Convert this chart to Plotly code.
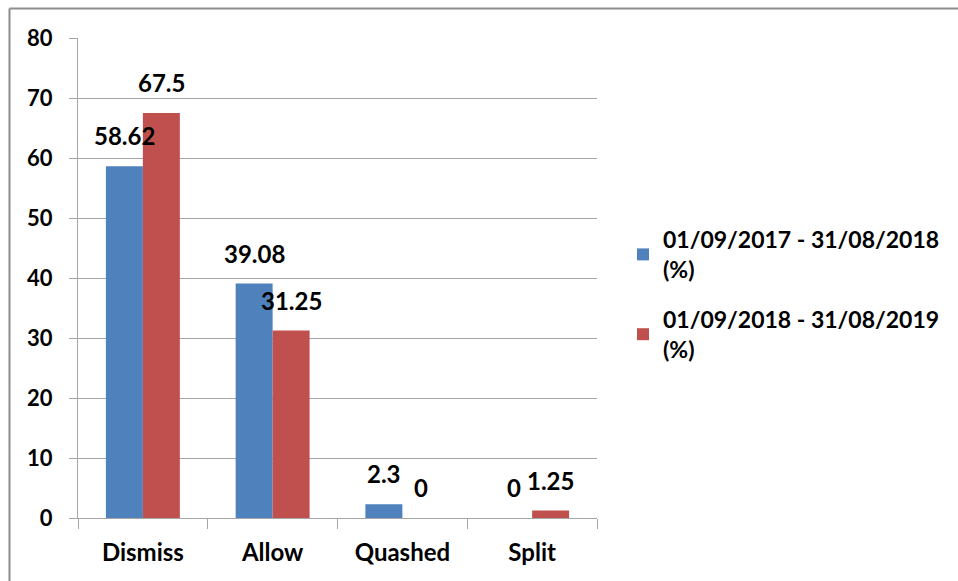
import plotly.graph_objects as go

categories = ["Dismiss", "Allow", "Quashed", "Split"]
series_names = ["01/09/2017 - 31/08/2018<br>(%)", "01/09/2018 - 31/08/2019<br>(%)"]
values_2017_18 = [58.62, 39.08, 2.3, 0]
values_2018_19 = [67.5, 31.25, 0, 1.25]
label_2017_18 = ["58.62", "39.08", "2.3", "0"]
label_2018_19 = ["67.5", "31.25", "0", "1.25"]
y_ticks = [0, 10, 20, 30, 40, 50, 60, 70, 80]

BLUE = "#4F81BD"
RED = "#C0504D"
FONT = "Lato"
GRID = "#A6A6A6"

fig = go.Figure()
fig.add_trace(go.Bar(x=categories, y=values_2017_18, name=series_names[0],
                     legendgroup="p1", marker=dict(color=BLUE, line=dict(width=0))))
fig.add_trace(go.Bar(x=categories, y=values_2018_19, name=series_names[1],
                     legendgroup="p2", marker=dict(color=RED, line=dict(width=0))))

# value labels sit above each bar, shifted to the bar's side of the group
half_bar = 18.5
label_font = dict(family=FONT, size=24, color="#000", weight="bold")
annotations = []
for cat, v, t in zip(categories, values_2017_18, label_2017_18):
    annotations.append(dict(x=cat, y=v, text=t, xref="x", yref="y", showarrow=False,
                            xshift=-half_bar, yshift=14, yanchor="bottom", font=label_font))
for cat, v, t in zip(categories, values_2018_19, label_2018_19):
    annotations.append(dict(x=cat, y=v, text=t, xref="x", yref="y", showarrow=False,
                            xshift=half_bar, yshift=14, yanchor="bottom", font=label_font))

# chart frame (left and top edges visible)
plot_w, plot_h = 519, 480
fx = (9.5 - 78) / plot_w
fy = (518 - 8.5) / plot_h
shapes = [
    dict(type="line", xref="paper", yref="paper", x0=fx, x1=fx, y0=fy, y1=-0.3,
         line=dict(color="#8C8C8C", width=2)),
    dict(type="line", xref="paper", yref="paper", x0=fx, x1=2.0, y0=fy, y1=fy,
         line=dict(color="#8C8C8C", width=2)),
]

fig.update_layout(
    width=958, height=581,
    margin=dict(l=78, r=361, t=38, b=63),
    paper_bgcolor="white", plot_bgcolor="white",
    barmode="group", bargap=0.43, bargroupgap=0,
    font=dict(family=FONT, size=22, color="#000"),
    showlegend=True,
    legend=dict(x=(623 - 78) / plot_w, xanchor="left", y=0.625, yanchor="top",
                font=dict(family=FONT, size=23, color="#000", weight="bold"),
                tracegroupgap=17, itemclick=False),
    annotations=annotations,
    shapes=shapes,
    xaxis=dict(showline=True, linecolor=GRID, linewidth=1,
               ticks="outside", tickson="boundaries", ticklen=10, tickcolor=GRID,
               ticklabelstandoff=13,
               tickfont=dict(family=FONT, size=24, color="#000", weight="bold"),
               showgrid=False),
    yaxis=dict(range=[0, 80], tickvals=y_ticks, showline=True, linecolor=GRID, linewidth=1,
               showgrid=True, gridcolor=GRID, gridwidth=1,
               ticks="outside", ticklen=8, tickcolor=GRID, ticklabelstandoff=12,
               tickfont=dict(family=FONT, size=22, color="#000", weight="bold"),
               zeroline=False),
)

fig.write_html("out.html")
